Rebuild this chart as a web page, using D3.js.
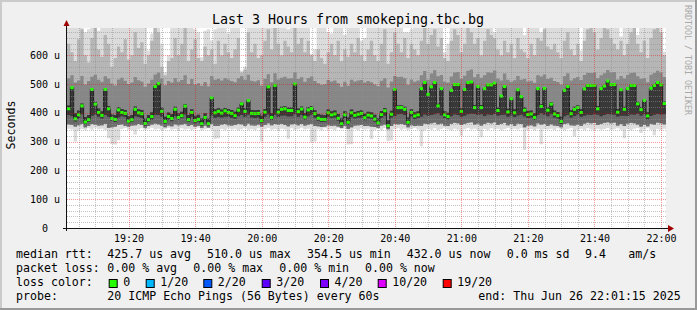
<!DOCTYPE html>
<html>
<head>
<meta charset="utf-8">
<script src="https://cdn.jsdelivr.net/npm/d3@7"></script>
<style>
  body { margin: 0; background: #f0f0f0; }
  svg { display: block; font-family: "DejaVu Sans Mono", monospace; }
  text { white-space: pre; }
</style>
</head>
<body>
<script>
// median rtt per 60s step (us), 19:01:30 .. 22:01:30
const med = [
  414,487,379,393,424,368,376,481,430,401, 391,481,414,380,377,410,401,398,371,376,
  412,400,397,363,376,387,491,501,405,370, 387,380,412,384,390,423,376,401,373,377,
  362,384,362,452,400,405,399,407,401,398, 390,409,431,405,442,398,397,398,373,402,
  490,384,495,402,412,414,408,408,500,404, 413,385,410,415,397,381,377,377,400,393,
  396,381,362,393,367,400,391,395,398,383, 392,389,378,365,394,407,355,395,481,418,
  418,412,367,401,389,393,484,505,464,490, 505,424,484,393,387,478,498,498,405,481,
  505,507,418,491,418,484,497,497,503,408, 458,491,403,449,400,480,456,409,394,396,
  384,484,422,485,409,430,396,390,370,478, 491,397,412,418,401,483,495,495,495,414,
  484,493,510,498,498,402,480,412,484,495, 495,431,411,443,389,485,495,505,497,432
];
// smoke: sorted ping ranks per step (us)
const pMin = [
  345,342,300,338,344,340,346,341,348,343, 345,340,312,292,290,305,344,347,341,339,
  325,343,346,340,344,348,342,345,339,343, 347,341,344,338,346,342,345,340,344,348,
  339,343,346,341,310,312,344,340,346,342, 345,339,343,347,341,344,340,346,300,343,
  347,341,344,339,345,342,310,346,340,344, 348,342,345,298,300,343,339,346,341,344,
  340,347,343,345,290,291,344,340,346,342, 345,309,341,344,339,347,302,305,343,346,
  341,345,340,344,347,342,284,339,345,341, 346,340,344,348,342,339,345,341,320,343,
  347,342,345,339,315,344,340,346,342,345, 339,343,347,341,345,342,346,271,340,344,
  339,345,291,343,342,345,340,346,342,339, 344,347,318,341,345,340,346,342,339,345,
  341,344,347,340,343,346,341,312,344,339, 345,347,330,342,346,341,322,344,340,345
];
const pLow = [
  360,358,352,357,362,350,355,361,359,356, 357,362,348,350,352,358,360,355,352,356,
  357,361,358,348,354,359,363,360,356,350, 356,353,360,357,359,362,354,358,352,355,
  348,356,349,362,354,355,359,361,357,356, 358,362,360,355,363,357,356,359,352,358,
  364,357,361,359,362,358,353,360,362,357, 361,356,359,362,354,353,351,352,357,355,
  356,352,347,355,345,350,356,357,358,354, 355,352,351,348,356,359,343,354,362,360,
  361,358,350,357,354,356,355,363,361,364, 366,360,363,356,354,362,365,364,358,362,
  365,367,359,363,356,362,366,364,367,358, 362,365,357,361,355,363,361,350,356,357,
  353,364,359,362,355,360,356,354,350,361, 364,357,356,359,355,363,366,364,365,358,
  362,365,367,364,366,356,361,354,363,365, 364,359,352,358,353,362,359,366,364,360
];
const pCore = [
  392,388,370,380,395,360,368,390,393,386, 380,392,386,372,368,384,388,385,364,368,
  388,385,382,355,368,376,393,392,386,362, 376,371,389,375,381,394,368,386,364,369,
  354,375,355,391,383,385,384,386,386,383, 379,388,392,385,393,384,382,384,365,386,
  394,375,393,385,390,391,387,388,395,386, 392,376,388,393,383,372,368,369,386,382,
  384,372,354,382,358,385,380,383,384,374, 381,379,369,356,383,390,348,384,389,395,
  396,392,358,386,378,382,386,394,390,392, 395,398,391,382,377,388,394,392,386,390,
  395,397,396,392,395,389,394,392,396,390, 392,393,386,391,385,391,393,387,382,384,
  375,392,398,393,388,395,384,380,361,388, 392,384,389,394,386,390,393,392,395,393,
  388,392,396,394,393,387,390,390,389,394, 393,397,390,395,378,389,393,396,394,395
];
const pCoreTop = [
  425,489,398,408,432,385,392,483,438,415, 405,483,424,395,392,420,413,410,388,392,
  422,412,410,380,392,402,493,503,418,386, 401,396,421,398,404,430,392,412,390,393,
  380,398,379,455,412,416,411,417,413,410, 404,418,436,416,445,410,409,410,390,413,
  492,398,497,414,421,423,418,418,502,415, 422,399,420,424,409,396,393,392,411,405,
  408,396,380,405,384,411,403,406,409,397, 404,402,393,382,406,417,374,407,483,426,
  426,421,384,412,402,405,486,507,467,492, 507,431,486,405,400,480,500,500,416,483,
  507,509,427,493,427,486,499,499,505,418, 461,493,414,452,412,482,459,419,406,408,
  398,486,430,487,419,437,408,403,387,480, 493,409,421,426,412,485,497,497,497,424,
  486,495,512,500,500,413,482,421,486,497, 497,438,420,447,402,487,497,507,499,439
];
const pHigh = [
  520,530,505,512,528,498,510,525,532,515, 508,527,518,502,495,516,522,511,500,505,
  524,513,509,490,502,515,533,540,519,496, 510,505,521,508,514,530,500,517,498,503,
  494,507,492,528,515,518,512,521,516,510, 506,520,527,515,532,511,509,513,495,518,
  534,506,537,516,522,525,519,520,541,517, 523,508,521,526,510,503,497,499,514,509,
  512,503,490,508,494,515,509,512,514,505, 510,506,498,492,511,520,488,509,528,524,
  525,521,497,516,508,512,530,545,515,536, 548,527,531,509,505,526,540,542,518,529,
  546,550,523,535,522,530,541,539,547,519, 512,536,515,508,513,528,515,517,509,511,
  504,530,526,533,517,522,510,507,498,527, 537,512,520,524,514,531,539,538,540,521,
  530,537,549,541,542,516,528,519,531,538, 540,527,518,521,506,532,538,546,540,524
];
const pUp = [
  640,610,580,655,690,600,575,660,700,620, 595,670,640,560,590,630,610,655,585,600,
  680,625,645,570,600,650,700,680,560,530, 580,590,660,600,640,710,580,620,655,590,
  580,630,600,620,570,650,600,640,610,590, 620,660,540,550,680,610,640,590,600,650,
  690,620,710,640,600,650,630,610,700,640, 660,610,650,600,580,620,590,570,610,640,
  600,650,580,620,595,640,610,660,600,580, 620,650,600,580,640,690,570,610,680,640,
  610,660,590,640,620,600,650,700,640,670, 690,630,660,590,580,650,690,670,610,640,
  700,680,640,660,600,650,690,670,660,620, 600,650,610,640,590,660,620,610,590,640,
  600,660,650,690,630,620,640,610,590,650, 680,620,600,640,580,650,690,700,680,620,
  660,700,690,660,640,620,650,600,640,680, 700,640,610,650,590,660,690,700,680,600
];
const pMax = [
  760,740,720,780,750,680,690,760,790,685, 740,770,720,750,730,760,745,780,735,750,
  770,740,755,730,616,675,780,765,640,541, 600,740,760,720,755,790,730,745,690,680,
  593,685,690,651,690,760,740,770,675,735, 745,770,547,560,780,740,760,730,720,755,
  790,745,800,760,730,750,690,740,780,755, 770,740,760,605,620,740,730,720,680,675,
  750,760,730,670,745,750,735,770,650,660, 740,760,730,720,755,790,720,740,780,760,
  730,680,680,690,745,735,760,800,750,770, 790,745,770,610,640,760,790,770,730,750,
  800,780,750,765,720,755,790,770,680,700, 730,760,720,750,715,760,740,670,720,750,
  730,770,680,790,745,735,750,730,720,760, 780,740,720,750,616,760,790,800,780,740,
  760,800,790,770,750,740,665,720,750,780, 800,670,720,760,715,770,790,800,780,612
];

const yTicks = [0, 100, 200, 300, 400, 500, 600];
const lossLabels = ["0", "1/20", "2/20", "3/20", "4/20", "10/20", "19/20"];
const lossColors = ["#26ff00", "#00b8ff", "#0059ff", "#5e00ff", "#7e00ff", "#dd00ff", "#ff0000"];
const rttStats = ["425.7 us avg", "510.0 us max", "354.5 us min", "432.0 us now", "0.0 ms sd", "9.4", "am/s"];
const lossStats = ["0.00 % avg", "0.00 % max", "0.00 % min", "0.00 % now"];

const width = 697, height = 310;
const plot = {left: 67, right: 666, top: 28, bottom: 228};
const n = med.length;
const t0 = new Date(2025, 5, 26, 19, 1, 30);
const edges = d3.range(n + 1).map(i => new Date(+t0 + i * 60000));

const x = d3.scaleTime().domain([edges[0], edges[n]]).range([plot.left, plot.right]);
const y = d3.scaleLinear().domain([0, 694.4]).range([plot.bottom, plot.top]);

const svg = d3.select("body").append("svg")
  .attr("width", width).attr("height", height);

// background + 3d border
svg.append("rect").attr("width", width).attr("height", height).attr("fill", "#f0f0f0");
svg.append("path").attr("d", `M0,${height} V0 H${width}`).attr("fill", "none")
  .attr("stroke", "#cbcbcb").attr("stroke-width", 4);
svg.append("path").attr("d", `M0,${height} H${width} V0`).attr("fill", "none")
  .attr("stroke", "#999999").attr("stroke-width", 4);

svg.append("rect")
  .attr("x", plot.left).attr("y", plot.top)
  .attr("width", plot.right - plot.left).attr("height", plot.bottom - plot.top)
  .attr("fill", "#ffffff");

svg.append("clipPath").attr("id", "clip").append("rect")
  .attr("x", plot.left).attr("y", plot.top)
  .attr("width", plot.right - plot.left).attr("height", plot.bottom - plot.top);

const g = svg.append("g").attr("clip-path", "url(#clip)");

// smoke bands, outer (light) to inner (dark)
const band = (lo, hi) => d3.area()
  .curve(d3.curveStepAfter)
  .x(i => x(edges[i]))
  .y0(i => y(lo[Math.min(i, n - 1)]))
  .y1(i => y(hi[Math.min(i, n - 1)]));
const idx = d3.range(n + 1);
[[pMin, pMax, "#dcdcdc"], [pLow, pUp, "#b6b6b6"], [pLow, pHigh, "#878787"],
 [pLow, pCoreTop, "#6a6a6a"], [pCore, pCoreTop, "#383838"]].forEach(([lo, hi, c]) => {
  g.append("path").attr("d", band(lo, hi)(idx)).attr("fill", c);
});

// median line
const medLine = d3.line().curve(d3.curveStepAfter)
  .x(i => x(edges[i])).y(i => y(med[Math.min(i, n - 1)]));
g.append("path").attr("d", medLine(idx)).attr("fill", "none")
  .attr("stroke", "#202020").attr("stroke-width", 1);

// median markers, coloured by loss (all 0 here)
g.selectAll("rect.med").data(med).join("rect")
  .attr("class", "med")
  .attr("x", (d, i) => x(edges[i]))
  .attr("width", (d, i) => x(edges[i + 1]) - x(edges[i]))
  .attr("y", d => y(d) - 1.5)
  .attr("height", 3)
  .attr("fill", lossColors[0]);

// grid on top
const grid = svg.append("g");
const snap = v => Math.round(v) + 0.5;
const majorX = x.ticks(d3.timeMinute.every(20));
const minorX = x.ticks(d3.timeMinute.every(5)).filter(t => t.getMinutes() % 20 !== 0);
const minorY = d3.range(20, 694, 20).filter(v => v % 100 !== 0);
const majorY = yTicks.filter(v => v > 0);

grid.selectAll("line.mx").data(minorX).join("line")
  .attr("x1", d => snap(x(d))).attr("x2", d => snap(x(d)))
  .attr("y1", plot.top).attr("y2", plot.bottom)
  .attr("stroke", "rgba(143,143,143,0.55)").attr("stroke-dasharray", "1,1");
grid.selectAll("line.my").data(minorY).join("line")
  .attr("y1", d => snap(y(d))).attr("y2", d => snap(y(d)))
  .attr("x1", plot.left).attr("x2", plot.right)
  .attr("stroke", "rgba(143,143,143,0.55)").attr("stroke-dasharray", "1,1");
grid.selectAll("line.Mx").data(majorX).join("line")
  .attr("x1", d => snap(x(d))).attr("x2", d => snap(x(d)))
  .attr("y1", plot.top).attr("y2", plot.bottom)
  .attr("stroke", "rgba(240,0,0,0.4)").attr("stroke-dasharray", "1,1");
grid.selectAll("line.My").data(majorY).join("line")
  .attr("y1", d => snap(y(d))).attr("y2", d => snap(y(d)))
  .attr("x1", plot.left).attr("x2", plot.right)
  .attr("stroke", "rgba(240,0,0,0.4)").attr("stroke-dasharray", "1,1");

// axes
const xAxis = svg.append("g")
  .attr("transform", `translate(0,${plot.bottom})`)
  .call(d3.axisBottom(x).ticks(d3.timeMinute.every(20))
    .tickFormat(d3.timeFormat("%H:%M")).tickSize(0).tickPadding(7));
const yAxis = svg.append("g")
  .attr("transform", `translate(${plot.left},0)`)
  .call(d3.axisLeft(y).tickValues(yTicks)
    .tickFormat(d => d === 0 ? "0\u00a0\u00a0" : d + " u").tickSize(0).tickPadding(7));
[xAxis, yAxis].forEach(a => {
  a.select(".domain").remove();
  a.selectAll("text").attr("font-family", "DejaVu Sans Mono").attr("font-size", 10).attr("fill", "#000");
});

svg.append("line").attr("x1", 63).attr("x2", 669).attr("y1", plot.bottom + 0.5).attr("y2", plot.bottom + 0.5)
  .attr("stroke", "#111");
svg.append("line").attr("x1", plot.left - 0.5).attr("x2", plot.left - 0.5).attr("y1", plot.bottom + 3).attr("y2", 25)
  .attr("stroke", "#111");
svg.append("path").attr("d", "M668,225 L674,228.5 L668,232 Z").attr("fill", "#a00000");
svg.append("path").attr("d", "M63.5,26 L66.5,20 L69.5,26 Z").attr("fill", "#a00000");

// labels
svg.append("text").attr("x", 348).attr("y", 24).attr("text-anchor", "middle")
  .attr("font-size", 13.3).text("Last 3 Hours from smokeping.tbc.bg");
svg.append("text").attr("transform", "translate(14.5,125) rotate(-90)").attr("text-anchor", "middle")
  .attr("font-size", 11.6).text("Seconds");
svg.append("text").attr("transform", "translate(685,5) rotate(90)")
  .attr("font-size", 8.3).attr("fill", "#a8a8a8").text("RRDTOOL / TOBI OETIKER");

// legend
const legend = svg.append("g").attr("font-size", 11.6).attr("fill", "#000");
const put = (xp, yp, s) => legend.append("text").attr("x", xp).attr("y", yp).text(s);
put(16, 258.3, "median rtt:");
[107.3, 207, 307, 406.7, 506.7, 585, 628.3].forEach((xp, i) => put(xp, 258.3, rttStats[i]));
put(16, 272, "packet loss:");
[107.3, 193.3, 279.3, 365].forEach((xp, i) => put(xp, 272, lossStats[i]));
put(16, 286, "loss color:");
const boxX = [108.7, 145.7, 203.3, 261.7, 320, 377.7, 442.7];
lossLabels.forEach((l, i) => {
  legend.append("rect").attr("x", boxX[i] + 0.5).attr("y", 279.5).attr("width", 8).attr("height", 8)
    .attr("fill", lossColors[i]).attr("stroke", "#000");
  put(boxX[i] + 14.5, 286, l);
});
put(16, 300, "probe:");
put(107.3, 300, "20 ICMP Echo Pings (56 Bytes) every 60s");
put(478.3, 300, "end: Thu Jun 26 22:01:15 2025");
</script>
</body>
</html>
